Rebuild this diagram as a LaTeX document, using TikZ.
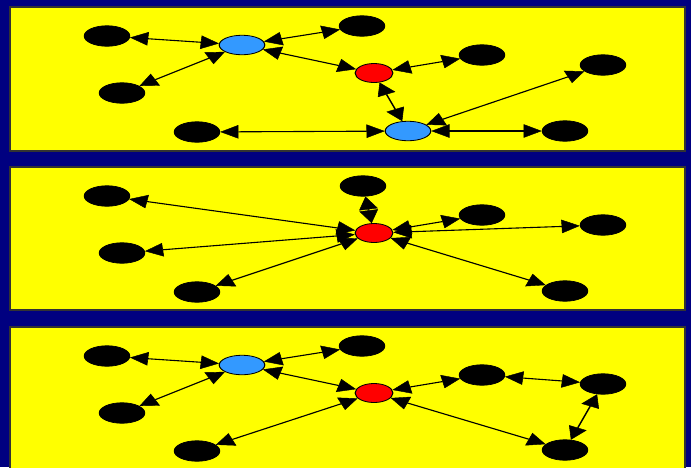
\documentclass[tikz,border=0pt]{standalone}
\usetikzlibrary{shapes.geometric,arrows.meta}
\definecolor{navy}{HTML}{000080}
\definecolor{panelyellow}{HTML}{FFFF00}
\definecolor{nodeblue}{HTML}{3399FF}
\definecolor{nodered}{HTML}{FF0000}
\tikzset{
  panel/.style={fill=panelyellow,draw=black!80,line width=1.2pt},
  blk/.style={ellipse,fill=black,draw=black,line width=0.7pt,minimum width=32.5pt,minimum height=20.5pt,inner sep=0pt},
  blu/.style={ellipse,fill=nodeblue,draw=black,line width=0.8pt,minimum width=32.5pt,minimum height=19.5pt,inner sep=0pt},
  rd/.style={ellipse,fill=nodered,draw=black,line width=0.8pt,minimum width=27pt,minimum height=19pt,inner sep=0pt},
  tip/.tip={Triangle[length=13pt,width=13.5pt,line width=0.4pt]},
  link/.style={draw=black,line width=1.1pt,tip-tip}
}
\begin{document}
\begin{tikzpicture}[x=1pt,y=-1pt]
\fill[navy] (0,0) rectangle (691,467);
\useasboundingbox (0,0) rectangle (691,467);
\draw[panel] (10,7) rectangle (685,151);
\draw[panel] (10,167) rectangle (685,310);
\draw[panel] (10,327) rectangle (685,475);
\begin{scope}[x=0.7142857pt,transform canvas={xscale=1.4}]
% panel 1
\node[blk] (a1) at (107,36) {};
\node[blk] (b1) at (122,93) {};
\node[blk] (c1) at (197,132) {};
\node[blu] (u1) at (242,45) {};
\node[blk] (d1) at (362,26) {};
\node[rd] (r1) at (374,73) {};
\node[blk] (e1) at (482,55) {};
\node[blk] (f1) at (603,65) {};
\node[blu] (v1) at (408,131) {};
\node[blk] (g1) at (565,131) {};
\draw[link] (a1) -- (u1);
\draw[link] (b1) -- (u1);
\draw[link] (u1) -- (d1);
\draw[link] (u1) -- (r1);
\draw[link] (r1) -- (e1);
\draw[link] (r1) -- (v1);
\draw[link] (c1) -- (v1);
\draw[link] (v1) -- (f1);
\draw[link] (v1) -- (g1);
% panel 2
\node[blk] (a2) at (107,196) {};
\node[blk] (b2) at (122,253) {};
\node[blk] (c2) at (197,292) {};
\node[blk] (d2) at (363,186) {};
\node[rd] (r2) at (374,233) {};
\node[blk] (e2) at (482,215) {};
\node[blk] (f2) at (603,225) {};
\node[blk] (g2) at (565,291) {};
\draw[link] (r2) -- (a2);
\draw[link] (r2) -- (b2);
\draw[link] (r2) -- (c2);
\draw[link] (r2) -- (d2);
\draw[link] (r2) -- (e2);
\draw[link] (r2) -- (f2);
\draw[link] (r2) -- (g2);
% panel 3
\node[blk] (a3) at (107,356) {};
\node[blk] (b3) at (122,413) {};
\node[blk] (c3) at (197,451) {};
\node[blu] (u3) at (242,365) {};
\node[blk] (d3) at (362,346) {};
\node[rd] (r3) at (374,393) {};
\node[blk] (e3) at (482,375) {};
\node[blk] (f3) at (603,384) {};
\node[blk] (g3) at (565,450) {};
\draw[link] (a3) -- (u3);
\draw[link] (b3) -- (u3);
\draw[link] (u3) -- (d3);
\draw[link] (u3) -- (r3);
\draw[link] (c3) -- (r3);
\draw[link] (r3) -- (e3);
\draw[link] (r3) -- (g3);
\draw[link] (e3) -- (f3);
\draw[link] (f3) -- (g3);
\end{scope}
\end{tikzpicture}
\end{document}
